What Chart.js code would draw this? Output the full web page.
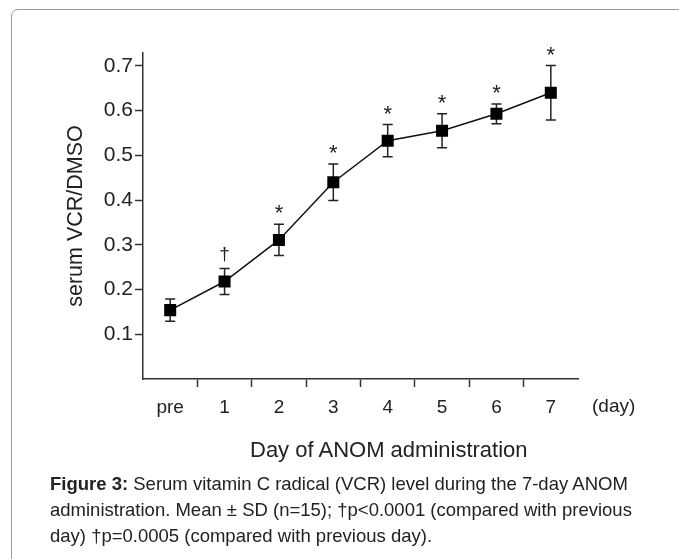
<!DOCTYPE html>
<html>
<head>
<meta charset="utf-8">
<script src="https://cdn.jsdelivr.net/npm/chart.js@4/dist/chart.umd.min.js"></script>
<style>
  html, body { margin: 0; padding: 0; background: #fff; }
  body { width: 679px; height: 559px; position: relative; overflow: hidden; font-family: "Liberation Sans", Arial, sans-serif; color: #222; }
  #frame { position: absolute; left: 11px; top: 9px; width: 700px; height: 600px; border: 1px solid #999; border-radius: 7px 0 0 0; box-sizing: border-box; }
  #wrap { position: absolute; left: 0; top: 0; width: 679px; height: 559px; }
  #xtitle { position: absolute; left: 250px; top: 437px; font-size: 22px; white-space: nowrap; }
  #day { position: absolute; left: 592px; top: 395px; font-size: 19px; }
  #caption { position: absolute; left: 50px; top: 471px; font-size: 18.5px; line-height: 26px; white-space: nowrap; }
</style>
</head>
<body>
<div id="frame"></div>
<div id="wrap"><canvas id="chart"></canvas></div>
<div id="day">(day)</div>
<div id="xtitle">Day of ANOM administration</div>
<div id="caption"><b>Figure 3:</b> Serum vitamin C radical (VCR) level during the 7-day ANOM<br>administration. Mean ± SD (n=15); †p&lt;0.0001 (compared with previous<br>day) †p=0.0005 (compared with previous day).</div>
<script>
var days = ['pre', '1', '2', '3', '4', '5', '6', '7'];
var means = [0.154, 0.218, 0.311, 0.440, 0.533, 0.555, 0.593, 0.640];
var sds = [0.025, 0.029, 0.035, 0.041, 0.036, 0.038, 0.022, 0.061];
var marks = ['', '\u2020', '*', '*', '*', '*', '*', '*'];
var yTicks = [0.1, 0.2, 0.3, 0.4, 0.5, 0.6, 0.7];

var ink = '#222';

// error bars under the squares, significance marks above them
var errorBars = {
  id: 'errorBars',
  beforeDatasetsDraw: function (chart) {
    var ctx = chart.ctx, x = chart.scales.x, y = chart.scales.y;
    ctx.save();
    ctx.strokeStyle = ink;
    ctx.lineWidth = 1.5;
    for (var i = 0; i < means.length; i++) {
      var px = x.getPixelForValue(i);
      var top = y.getPixelForValue(means[i] + sds[i]);
      var bot = y.getPixelForValue(means[i] - sds[i]);
      ctx.beginPath();
      ctx.moveTo(px, top); ctx.lineTo(px, bot);
      ctx.moveTo(px - 5, top); ctx.lineTo(px + 5, top);
      ctx.moveTo(px - 5, bot); ctx.lineTo(px + 5, bot);
      ctx.stroke();
    }
    ctx.restore();
  },
  afterDatasetsDraw: function (chart) {
    var ctx = chart.ctx, x = chart.scales.x, y = chart.scales.y;
    ctx.save();
    ctx.fillStyle = ink;
    ctx.textAlign = 'center';
    ctx.textBaseline = 'alphabetic';
    for (var i = 0; i < marks.length; i++) {
      if (!marks[i]) continue;
      var px = x.getPixelForValue(i);
      var top = y.getPixelForValue(means[i] + sds[i]);
      if (marks[i] == '*') {
        ctx.font = '22px "Liberation Sans", Arial, sans-serif';
        ctx.fillText('*', px, top - 4);
      } else {
        ctx.font = '19px "Liberation Sans", Arial, sans-serif';
        ctx.fillText(marks[i], px, top - 9);
      }
    }
    ctx.restore();
  }
};

var ctx = document.getElementById('chart').getContext('2d');
var myChart = new Chart(ctx, {
  type: 'line',
  data: {
    labels: days,
    datasets: [{
      data: means,
      borderColor: '#111',
      borderWidth: 1.5,
      backgroundColor: '#000',
      pointStyle: 'rect',
      pointRadius: 8.5,
      pointBorderWidth: 0,
      pointBackgroundColor: '#000',
      tension: 0
    }]
  },
  options: {
    responsive: true,
    maintainAspectRatio: false,
    animation: false,
    layout: { padding: { left: 0, top: 53, right: 101, bottom: 140 } },
    plugins: { legend: { display: false }, tooltip: { enabled: false } },
    scales: {
      x: {
        offset: true,
        border: { color: '#333', width: 1.5 },
        grid: {
          offset: true,
          drawOnChartArea: false,
          tickLength: 8,
          tickWidth: 1.5,
          tickColor: function (c) { return (c.index >= 1 && c.index <= 7) ? '#333' : 'rgba(0,0,0,0)'; }
        },
        ticks: { color: ink, font: { size: 19, family: '"Liberation Sans", Arial, sans-serif' }, padding: 9, maxRotation: 0 },
        afterFit: function (s) { s.height = 40; }
      },
      y: {
        min: 0,
        max: 0.729,
        border: { color: '#333', width: 1.5 },
        grid: { drawOnChartArea: false, tickLength: 8, tickWidth: 1.5, tickColor: '#333' },
        afterBuildTicks: function (s) { s.ticks = yTicks.map(function (v) { return { value: v }; }); },
        ticks: {
          color: ink,
          font: { size: 21, family: '"Liberation Sans", Arial, sans-serif' },
          padding: 2,
          callback: function (v) { return v.toFixed(1); }
        },
        title: {
          display: true,
          text: 'serum VCR/DMSO',
          color: ink,
          font: { size: 21.5, family: '"Liberation Sans", Arial, sans-serif' },
          padding: { top: 63, bottom: 0 }
        },
        afterFit: function (s) { s.width = 143; }
      }
    }
  },
  plugins: [errorBars]
});
</script>
</body>
</html>
